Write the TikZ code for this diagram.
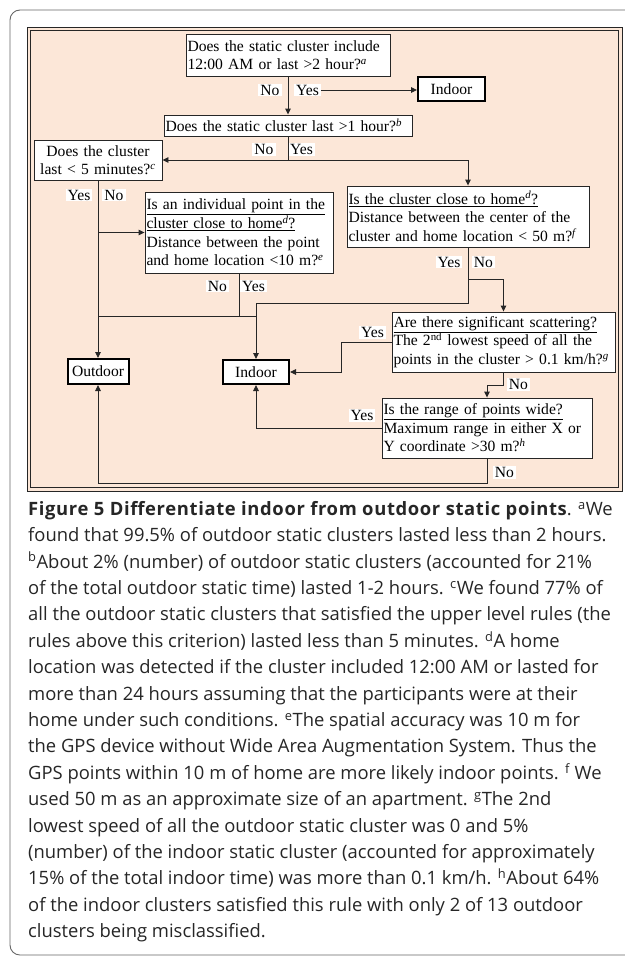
\documentclass[tikz,border=0pt]{standalone}
\usepackage{fontspec}
\setmainfont{Liberation Serif}
\newfontfamily\capfont{Open Sans}
\newfontfamily\captitle{Open Sans}[LetterSpace=3.5]
\usepackage{tikz}
\usetikzlibrary{arrows.meta, positioning, calc}
\definecolor{peach}{HTML}{FCE7D8}
\definecolor{ink}{HTML}{262626}
\newcommand{\diagfont}{\fontsize{15.6}{18.6}\selectfont}
\newcommand{\fn}[1]{\textsuperscript{\itshape #1}}
\tikzstyle{qbox} = [rectangle, draw=ink, line width=0.9pt, fill=white, inner xsep=1.5pt,
                    inner ysep=1pt, align=left, font=\diagfont]
\tikzstyle{endbox} = [rectangle, draw=black, line width=2pt, fill=white, inner sep=0pt,
                      font=\diagfont]
\tikzstyle{tag} = [rectangle, fill=white, inner xsep=2pt, inner ysep=1pt, font=\diagfont]
\tikzstyle{link} = [draw=ink, line width=0.9pt]
\tikzstyle{arrow} = [link, -{Triangle[length=6pt,width=5.5pt]}]

\begin{document}
\begin{tikzpicture}[x=1pt, y=-1pt]
    \useasboundingbox (0,0) rectangle (624,958);
    % Frames
    \draw[gray!80!black, line width=0.9pt, rounded corners=10pt] (10,10) rectangle (660,955);
    \fill[peach] (27,27) rectangle (622,491);
    \draw[ink, line width=0.8pt] (27,27) rectangle (622,491);
    \draw[ink, line width=0.8pt] (30.5,30.5) rectangle (618.5,487.5);

    % Row 1: duration checks
    \node[qbox, text width=201pt, minimum height=42pt] (q1) at (288,55)
        {Does the static cluster include\\12:00 AM or last >2 hour?\fn{a}};
    \node[endbox, minimum width=67pt, minimum height=24pt] (indoor1) at (451.5,89) {Indoor};
    \node[qbox, text width=245pt, minimum height=21pt] (q2) at (288,125.5)
        {Does the static cluster last >1 hour?\fn{b}};
    \node[qbox, text width=125pt, align=center, minimum height=40pt] (q3) at (98,160)
        {Does the cluster\\last < 5 minutes?\fn{c}};

    % Row 2: home checks
    \node[qbox, text width=239pt, minimum height=61pt] (q4) at (468,216.5)
        {\underline{Is the cluster close to home\fn{d}?}\\Distance between the center of the\\cluster and home location < 50 m?\fn{f}};
    \node[qbox, text width=185pt, minimum height=81pt] (q5) at (239,232.5)
        {\underline{Is an individual point in the}\\\underline{cluster close to home\fn{d}?}\\Distance between the point\\and home location <10 m?\fn{e}};

    % Row 3: spread checks and results
    \node[qbox, text width=220pt, minimum height=60pt] (q6) at (503.5,342)
        {\underline{Are there significant scattering?}\\The 2\textsuperscript{nd} lowest speed of all the\\points in the cluster > 0.1 km/h?\fn{g}};
    \node[qbox, text width=207pt, minimum height=60pt] (q7) at (487,428)
        {\underline{Is the range of points wide?}\\Maximum range in either X or\\Y coordinate >30 m?\fn{h}};
    \node[endbox, minimum width=61pt, minimum height=25pt] (outdoor) at (98,371.5) {Outdoor};
    \node[endbox, minimum width=66pt, minimum height=24pt] (indoor2) at (256,372) {Indoor};

    % Bends
    \coordinate (j5) at (98,316);
    \coordinate (k4) at (256,303);
    \coordinate (b4) at (468,279);
    \coordinate (b6) at (341,342);
    \coordinate (b7) at (487,385);
    \coordinate (b8) at (487,483);

    % Labels
    \node[tag] (no1) at (270,90) {No};
    \node[tag] (yes1) at (307.5,90) {Yes};
    \node[tag] (no2) at (264,149.5) {No};
    \node[tag] (yes2) at (301.5,149.5) {Yes};
    \node[tag] (yes3) at (79,195) {Yes};
    \node[tag] (no3) at (114,195) {No};
    \node[tag] (no5) at (217.5,286) {No};
    \node[tag] (yes5) at (253.5,286) {Yes};
    \node[tag] (yes4) at (449,262) {Yes};
    \node[tag] (no4) at (483.5,262) {No};
    \node[tag] (yes6) at (372.5,332.5) {Yes};
    \node[tag] (no6) at (518.5,384.5) {No};
    \node[tag] (yes7) at (362,415.5) {Yes};
    \node[tag] (no7) at (504.5,472.5) {No};

    % Arrows Row 1
    \draw[arrow] (q1.south) -- (q2.north);
    \draw[arrow] (yes1.east) -- (yes1.east -| indoor1.west);
    \draw[arrow] (q2.south) |- (q3.east);
    \draw[arrow] (q3.east -| q2.south) -| (q4.north);

    % Arrows Row 2
    \draw[arrow] (q3.south) -- (outdoor.north);
    \draw[arrow] (q3.south) |- (q5.west);
    \draw[link] (q5.south) |- (j5);
    \draw[link] (q5.south |- j5) -- (indoor2.north |- j5);
    \draw[arrow] (q4.south) |- (k4) -- (indoor2.north);
    \draw[arrow] (b4) -| (q6.north);

    % Arrows Row 3
    \draw[arrow] (q6.west) -- (b6) |- (indoor2.east);
    \draw[arrow] (q6.south) |- (b7) -- (q7.north);
    \draw[arrow] (q7.west) -| (indoor2.south);
    \draw[arrow] (q7.south) -- (b8) -| (outdoor.south);

    % Caption
    \node[anchor=north west, align=left, inner sep=0pt, text=black!85,
          font=\capfont\fontsize{18.4}{26.4}\selectfont] (caption) at (28,501)
        {{\captitle\bfseries Figure 5 Differentiate indoor from outdoor static points}. \textsuperscript{a}We\\
         found that 99.5\% of outdoor static clusters lasted less than 2 hours.\\
         \textsuperscript{b}About 2\% (number) of outdoor static clusters (accounted for 21\%\\
         of the total outdoor static time) lasted 1-2 hours. \textsuperscript{c}We found 77\% of\\
         all the outdoor static clusters that satisfied the upper level rules (the\\
         rules above this criterion) lasted less than 5 minutes. \textsuperscript{d}A home\\
         location was detected if the cluster included 12:00 AM or lasted for\\
         more than 24 hours assuming that the participants were at their\\
         home under such conditions. \textsuperscript{e}The spatial accuracy was 10 m for\\
         the GPS device without Wide Area Augmentation System. Thus the\\
         GPS points within 10 m of home are more likely indoor points. \textsuperscript{f} We\\
         used 50 m as an approximate size of an apartment. \textsuperscript{g}The 2nd\\
         lowest speed of all the outdoor static cluster was 0 and 5\%\\
         (number) of the indoor static cluster (accounted for approximately\\
         15\% of the total indoor time) was more than 0.1 km/h. \textsuperscript{h}About 64\%\\
         of the indoor clusters satisfied this rule with only 2 of 13 outdoor\\
         clusters being misclassified.};
\end{tikzpicture}
\end{document}
